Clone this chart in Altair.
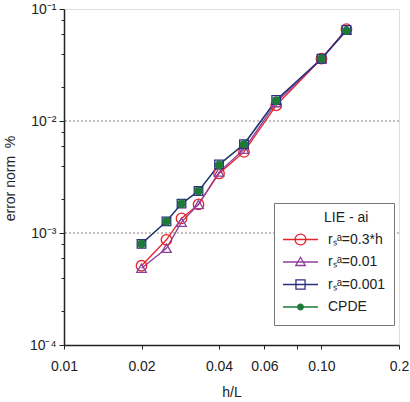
import altair as alt
import pandas as pd

# ---- data ----
h_over_L = [0.02, 0.025, 0.0286, 0.0333, 0.04, 0.05, 0.0667, 0.1, 0.125]
err_rs_03h = [5.1e-4, 8.7e-4, 1.35e-3, 1.8e-3, 3.4e-3, 5.3e-3, 1.38e-2, 3.6e-2, 6.6e-2]
err_rs_001 = [4.85e-4, 7.3e-4, 1.25e-3, 1.8e-3, 3.5e-3, 5.6e-3, 1.46e-2, 3.6e-2, 6.5e-2]
err_rs_0001 = [8.0e-4, 1.27e-3, 1.83e-3, 2.37e-3, 4.1e-3, 6.2e-3, 1.54e-2, 3.6e-2, 6.5e-2]
err_cpde = [8.0e-4, 1.27e-3, 1.83e-3, 2.37e-3, 4.05e-3, 6.2e-3, 1.52e-2, 3.6e-2, 6.4e-2]

series_names = ["r\u209b\u1d43=0.3*h", "r\u209b\u1d43=0.01", "r\u209b\u1d43=0.001", "CPDE"]
series_values = [err_rs_03h, err_rs_001, err_rs_0001, err_cpde]

x_ticks = [0.01, 0.02, 0.04, 0.06, 0.08, 0.1, 0.2]
y_ticks = [1e-4, 2e-4, 4e-4, 6e-4, 8e-4, 1e-3, 2e-3, 4e-3, 6e-3, 8e-3,
           1e-2, 2e-2, 4e-2, 6e-2, 8e-2, 1e-1]
grid_values = [1e-2, 1e-3]

# ---- styles ----
colors = ["#e5232a", "#8e3f9c", "#2c2f80", "#1f7a3a"]
plot_shapes = ["circle", "triangle-up", "square", "circle"]
plot_fills = ["transparent", "transparent", "transparent", "#1f7a3a"]
plot_sizes = [110, 55, 85, 22]
legend_paths = [
    "M-1,0H1M-0.31,0A0.31,0.31 0 1,1 0.31,0A0.31,0.31 0 1,1 -0.31,0Z",
    "M-1,0H1M0,-0.27L0.27,0.2L-0.27,0.2Z",
    "M-1,0H1M-0.26,-0.26H0.26V0.26H-0.26Z",
    "M-1,0H1M-0.16,0A0.16,0.16 0 1,1 0.16,0A0.16,0.16 0 1,1 -0.16,0Z",
]
FONT = "Liberation Sans"

rows = []
for name, vals in zip(series_names, series_values):
    for h, e in zip(h_over_L, vals):
        rows.append({"series": name, "h": h, "err": e})
df = pd.DataFrame(rows)
grid_df = pd.DataFrame({"g": grid_values})

x_enc = alt.X(
    "h:Q",
    scale=alt.Scale(type="log", domain=[0.01, 0.2]),
    axis=alt.Axis(
        values=x_ticks,
        labelExpr="datum.value == 0.08 ? '' : (datum.value == 0.1 ? '0.10' : (datum.value == 0.2 ? '0.2' : format(datum.value, '.2f')))",
        grid=False, tickSize=4, tickColor="#222", labelPadding=10,
        labelFlush=False, labelOverlap=False,
        labelFont=FONT, labelFontSize=14, labelColor="#222",
        domainColor="#222", domainWidth=1.5,
        title="h/L", titleFont=FONT, titleFontSize=14, titleFontWeight="normal",
        titleColor="#222", titleY=47, titleBaseline="middle",
    ),
)
y_enc = alt.Y(
    "err:Q",
    scale=alt.Scale(type="log", domain=[1e-4, 1e-1]),
    axis=alt.Axis(
        values=y_ticks,
        labelExpr="datum.value == 0.1 ? '10\u207b\u00b9' : (datum.value == 0.01 ? '10\u207b\u00b2' : (datum.value == 0.001 ? '10\u207b\u00b3' : (datum.value == 0.0001 ? '10\u207b\u2074' : '')))",
        grid=False,
        tickSize={"condition": {"test": "abs(log(datum.value)/LN10 - round(log(datum.value)/LN10)) < 0.01", "value": 5}, "value": 3},
        tickColor="#222", labelPadding=3,
        labelFlush=False, labelOverlap=False,
        labelFont=FONT, labelFontSize=14, labelColor="#222",
        domainColor="#222", domainWidth=1.5,
        title="error norm\u00a0\u00a0%", titleFont=FONT, titleFontSize=14,
        titleFontWeight="normal", titleColor="#222",
        titleX=-54, titleY=169, titleBaseline="middle",
    ),
)

color_scale = alt.Scale(domain=series_names, range=colors)

grid = alt.Chart(grid_df).mark_rule(color="#666", strokeWidth=0.8, strokeDash=[2, 2]).encode(
    y=alt.Y("g:Q", scale=alt.Scale(type="log", domain=[1e-4, 1e-1]))
)

line_cpde = alt.Chart(df).transform_filter(alt.datum.series == "CPDE").mark_line(strokeWidth=1.3).encode(
    x=x_enc, y=y_enc,
    color=alt.Color("series:N", scale=color_scale, legend=None),
)
line_rest = alt.Chart(df).transform_filter(alt.datum.series != "CPDE").mark_line(strokeWidth=1.3).encode(
    x=x_enc, y=y_enc,
    color=alt.Color("series:N", scale=color_scale, legend=None),
    detail="series:N",
)

points = alt.Chart(df).mark_point(strokeWidth=1.3, opacity=1).encode(
    x=x_enc, y=y_enc,
    color=alt.Color("series:N", scale=color_scale, legend=None),
    shape=alt.Shape("series:N", scale=alt.Scale(domain=series_names, range=plot_shapes), legend=None),
    fill=alt.Fill("series:N", scale=alt.Scale(domain=series_names, range=plot_fills), legend=None),
    size=alt.Size("series:N", scale=alt.Scale(domain=series_names, range=plot_sizes), legend=None),
)

leg = alt.Legend(
    title="\u200b" + "\u2002" * 6 + "LIE - ai", orient="none", legendX=210, legendY=194,
    padding=8, strokeColor="#777", fillColor="white",
    titleFont=FONT, titleFontSize=14, titleFontWeight="normal", titleColor="#222",
    titlePadding=5, labelFont=FONT, labelFontSize=14, labelColor="#222",
    labelOffset=9, rowPadding=3.5, clipHeight=19, symbolSize=1225, symbolStrokeWidth=1.3,
)
legend_layer = alt.Chart(df).mark_point(size=0, strokeWidth=1.3, opacity=1).encode(
    x=x_enc, y=y_enc,
    color=alt.Color("series:N", scale=color_scale, legend=leg),
    shape=alt.Shape("series:N", scale=alt.Scale(domain=series_names, range=legend_paths), legend=leg),
    fill=alt.Fill("series:N", scale=alt.Scale(domain=series_names, range=plot_fills), legend=leg),
)

chart = alt.layer(grid, line_cpde, line_rest, points, legend_layer).resolve_scale(
    color="independent", shape="independent", fill="independent", size="independent"
).properties(
    width=335, height=336,
    autosize=alt.AutoSizeParams(type="none"),
    padding={"left": 64, "top": 9, "right": 11, "bottom": 57},
).configure_view(stroke="#222", strokeWidth=1.5).configure(background="white")

chart.save("out.html", embed_options={"renderer": "svg", "actions": False})
